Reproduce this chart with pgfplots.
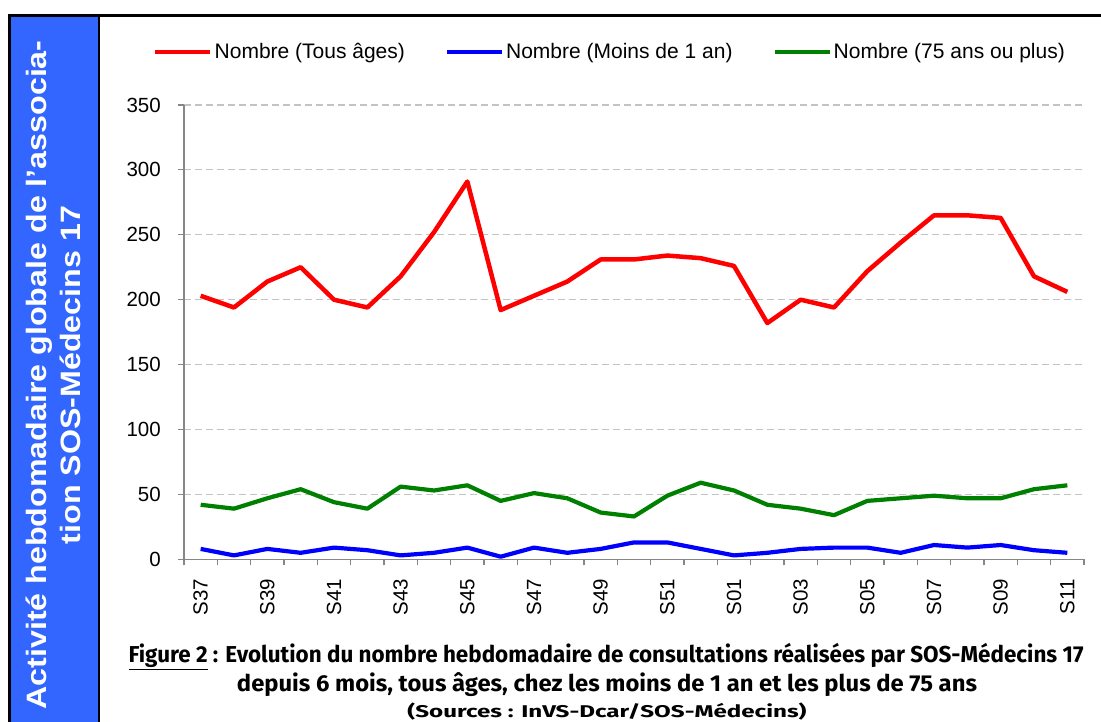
\documentclass[border=0pt]{standalone}
\usepackage{pgfplots}
\pgfplotsset{compat=1.18}
\usepackage{fontspec}
\setmainfont{Liberation Sans}
\newfontfamily\titlefont{Fira Sans}
\usepackage{graphicx}
\definecolor{bandblue}{RGB}{51,102,255}
\definecolor{axgray}{RGB}{134,134,134}
\definecolor{gridgray}{RGB}{195,195,195}
\definecolor{dgreen}{RGB}{0,128,0}
\definecolor{lred}{RGB}{255,0,0}
\definecolor{lblue}{RGB}{0,0,255}

\pgfplotstableread{
x tous moins plus
0 203 8 42
1 194 3 39
2 214 8 47
3 225 5 54
4 200 9 44
5 194 7 39
6 218 3 56
7 252 5 53
8 291 9 57
9 192 2 45
10 203 9 51
11 214 5 47
12 231 8 36
13 231 13 33
14 234 13 49
15 232 8 59
16 226 3 53
17 182 5 42
18 200 8 39
19 194 9 34
20 222 9 45
21 244 5 47
22 265 11 49
23 265 9 47
24 263 11 47
25 218 7 54
26 206 5 57
}\data

\begin{document}
\begin{tikzpicture}[x=1pt,y=1pt]
\useasboundingbox (0,0) rectangle (1101,722);
\fill[white] (0,0) rectangle (1101,722);
\fill[bandblue] (9.5,0) rectangle (98.8,706.5);
\draw[black, line width=2.5pt] (9.5,0) -- (9.5,706.5) -- (1101,706.5);
\draw[black, line width=2.3pt] (98.8,0) -- (98.8,706.5);

\node[rotate=90, anchor=base, text=white, inner sep=0pt,
      font=\fontsize{28}{30}\selectfont\bfseries] at (46,347)
      {\scalebox{1.15}[1]{Activité hebdomadaire globale de l’associa-}};
\node[rotate=90, anchor=base, text=white, inner sep=0pt,
      font=\fontsize{28}{30}\selectfont\bfseries] at (80,347)
      {\scalebox{1.15}[1]{tion SOS-Médecins 17}};

\node[anchor=base, inner sep=0pt, font=\titlefont\bfseries\fontsize{23}{26}\selectfont] at (606,59)
  {\resizebox{955pt}{\height}{\underline{Figure 2} : Evolution du nombre hebdomadaire de consultations réalisées par SOS-Médecins 17}};
\node[anchor=base, inner sep=0pt, font=\titlefont\bfseries\fontsize{23}{26}\selectfont] at (607,30)
  {\resizebox{740pt}{\height}{depuis 6 mois, tous âges, chez les moins de 1 an et les plus de 75 ans}};
\node[anchor=base, inner sep=0pt, font=\titlefont\bfseries\fontsize{17}{20}\selectfont] at (607,4)
  {\resizebox{399pt}{\height}{(Sources : InVS-Dcar/SOS-Médecins)}};

\begin{axis}[
  at={(184pt,162.7pt)}, anchor=south west,
  scale only axis, width=900pt, height=454.3pt,
  xmin=-0.5, xmax=26.5, ymin=0, ymax=350,
  clip=false,
  axis x line*=bottom, axis y line*=left,
  axis line style={axgray, line width=1.2pt},
  ytick={0,50,...,350},
  xtick={0,...,26},
  xticklabels={S37,,S39,,S41,,S43,,S45,,S47,,S49,,S51,,S01,,S03,,S05,,S07,,S09,,S11},
  minor xtick={-0.5,0.5,...,26.5},
  major x tick style={draw=none},
  tick align=outside, major tick length=6pt, minor tick length=6pt,
  tick style={axgray, line width=1.2pt},
  ymajorgrids,
  major grid style={gridgray, dash pattern=on 7pt off 4pt, line width=1.2pt},
  /pgf/number format/assume math mode=true,
  ticklabel style={font=\fontsize{20.5}{24}\selectfont},
  yticklabel style={anchor=east, inner xsep=17pt, inner ysep=0pt},
  xticklabel style={rotate=90, anchor=east, inner xsep=13.7pt, inner ysep=0pt},
  legend style={at={(-0.0378,1.1167)}, anchor=west, draw=none, fill=none,
     font=\fontsize{21}{24}\selectfont, legend columns=3,
     /tikz/every even column/.append style={column sep=38pt}},
  legend image code/.code={\draw[#1] (0pt,0pt) -- (55pt,0pt);},
]
\addplot[lred, line width=4.5pt, line join=round] table[x=x, y=tous] {\data};
\addlegendentry{Nombre (Tous âges)}
\addplot[lblue, line width=4.2pt, line join=round] table[x=x, y=moins] {\data};
\addlegendentry{Nombre (Moins de 1 an)}
\addplot[dgreen, line width=4.2pt, line join=round] table[x=x, y=plus] {\data};
\addlegendentry{Nombre (75 ans ou plus)}
\end{axis}
\end{tikzpicture}
\end{document}
